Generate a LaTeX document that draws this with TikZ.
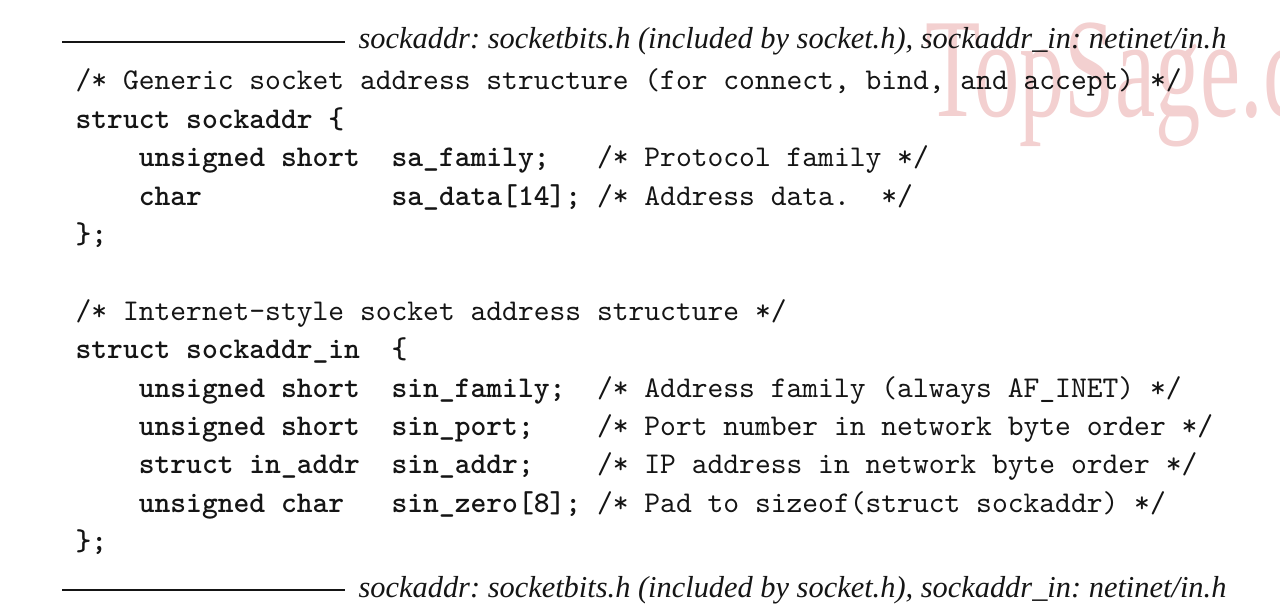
\documentclass[tikz,border=0pt]{standalone}
\usepackage{fontspec}
\newfontfamily\capfont{Liberation Serif}
\usepackage{tikz}
\usetikzlibrary{positioning}
\definecolor{codeink}{HTML}{151515}
\definecolor{wmpink}{HTML}{F3D0D0}

\begin{document}
\begin{tikzpicture}[
    x=0.33228pt, y=-0.33228pt,
    code/.style={anchor=base west, inner sep=0pt, font=\ttfamily, text=codeink},
    decl/.style={code, font=\ttfamily\bfseries},
    srcnote/.style={anchor=base west, inner sep=0pt, text=codeink, font=\capfont\itshape\frenchspacing\fontsize{10.1}{12}\selectfont},
    rulebar/.style={line width=0.7pt, draw=codeink}
]
\useasboundingbox (0,0) rectangle (1280,613);

% Watermark
\begin{scope}
\clip (0,0) rectangle (1280,613);
\node[anchor=base west, inner sep=0pt, xscale=0.64, text=wmpink, font=\capfont\fontsize{47}{48}\selectfont] (mark) at (925,117) {TopSage.com};
\end{scope}

% Source line, top
\coordinate (topl) at (62,42);
\coordinate (topr) at (345,42);
\draw[rulebar] (topl) -- (topr);
\node[srcnote] (topsrc) at (358,49) {sockaddr: socketbits.h (included by socket.h), sockaddr\_in: netinet/in.h};

% struct sockaddr
\node[code] (cm1) at (75,90) {/* Generic socket address structure (for connect, bind, and accept) */};
\node[decl] (sa) at (75,128.4) {struct sockaddr \{};
\node[decl] (saft) at (138.2,166.8) {unsigned short};
\node[decl] (safn) at (391,166.8) {sa\_family;};
\node[code] (safc) at (596.4,166.8) {/* Protocol family */};
\node[decl] (sadt) at (138.2,205.2) {char};
\node[decl] (sadn) at (391,205.2) {sa\_data[14];};
\node[code] (sadc) at (596.4,205.2) {/* Address data.\ \ */};
\node[decl] (saend) at (75,243.6) {\};};

% struct sockaddr_in
\node[code] (cm2) at (75,320.4) {/* Internet-style socket address structure */};
\node[decl] (sin) at (75,358.8) {struct sockaddr\_in\ \ \{};
\node[decl] (sinft) at (138.2,397.2) {unsigned short};
\node[decl] (sinfn) at (391,397.2) {sin\_family;};
\node[code] (sinfc) at (596.4,397.2) {/* Address family (always AF\_INET) */};
\node[decl] (sinpt) at (138.2,435.6) {unsigned short};
\node[decl] (sinpn) at (391,435.6) {sin\_port;};
\node[code] (sinpc) at (596.4,435.6) {/* Port number in network byte order */};
\node[decl] (sinat) at (138.2,474) {struct in\_addr};
\node[decl] (sinan) at (391,474) {sin\_addr;};
\node[code] (sinac) at (596.4,474) {/* IP address in network byte order */};
\node[decl] (sinzt) at (138.2,512.4) {unsigned char};
\node[decl] (sinzn) at (391,512.4) {sin\_zero[8];};
\node[code] (sinzc) at (596.4,512.4) {/* Pad to sizeof(struct sockaddr) */};
\node[decl] (sinend) at (75,550.8) {\};};

% Source line, bottom
\coordinate (botl) at (62,590);
\coordinate (botr) at (345,590);
\draw[rulebar] (botl) -- (botr);
\node[srcnote] (botsrc) at (358,597) {sockaddr: socketbits.h (included by socket.h), sockaddr\_in: netinet/in.h};

\end{tikzpicture}
\end{document}
